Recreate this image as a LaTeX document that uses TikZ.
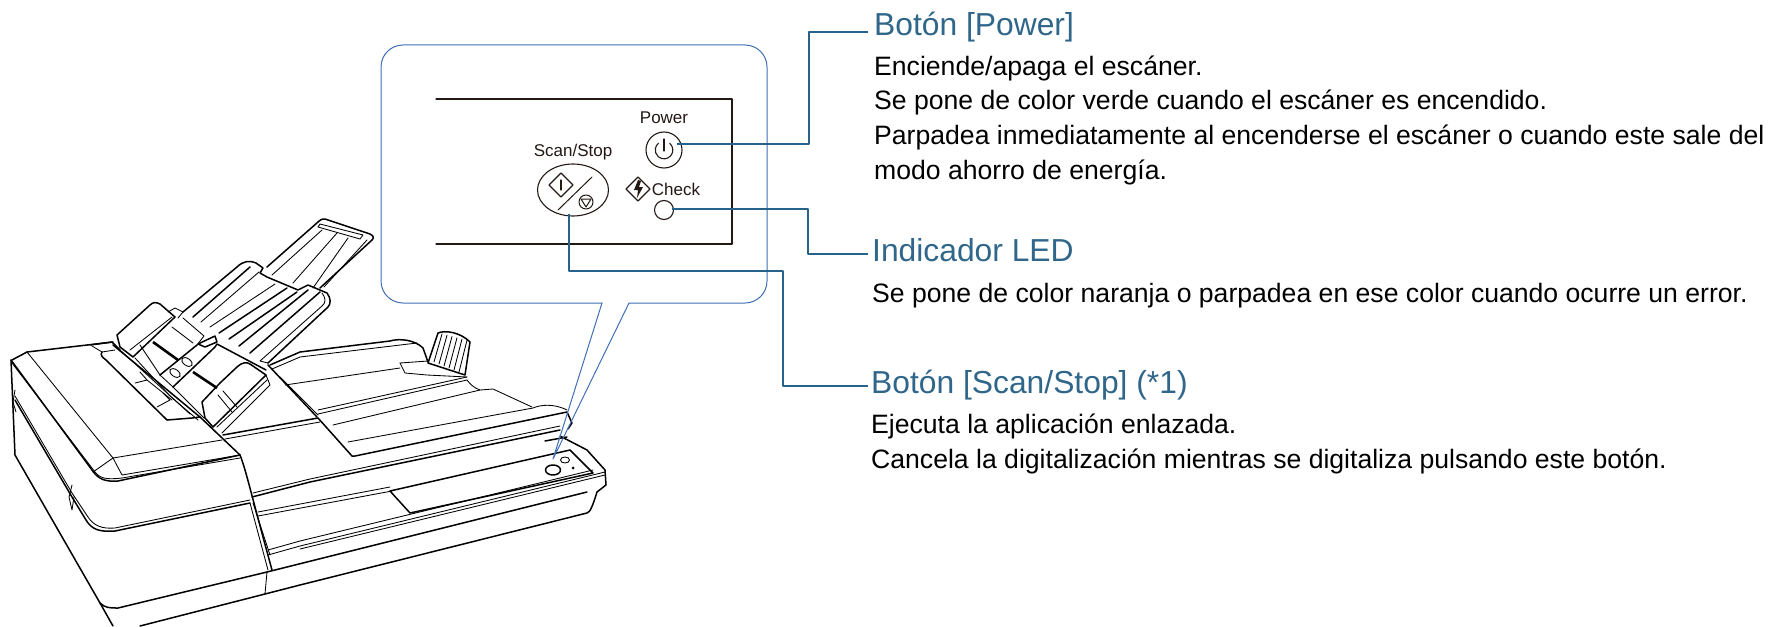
\documentclass[tikz,border=0pt]{standalone}
\usepackage{fontspec}
\setmainfont{Liberation Sans}
\usetikzlibrary{shapes.geometric}
\definecolor{leadblue}{HTML}{27628A}
\definecolor{headblue}{HTML}{2F6689}
\definecolor{callblue}{HTML}{3F6FB5}
\definecolor{panelink}{HTML}{231815}
\tikzset{
  leader/.style={draw=leadblue,line width=2.8pt,line cap=butt},
  headtext/.style={anchor=base west,inner sep=0pt,text=headblue,font=\fontsize{31.8}{36}\selectfont},
  bodytext/.style={anchor=base west,inner sep=0pt,align=left,font=\fontsize{26.6}{34.8}\selectfont},
  paneltext/.style={inner sep=0pt,text=panelink,font=\fontsize{17}{20}\selectfont},
  panelicon/.style={draw=panelink,line width=1.1pt,inner sep=0pt},
  thin line/.style={line width=.85pt},
  thick line/.style={line width=1.5pt}
}
\begin{document}
\begin{tikzpicture}[x=1pt,y=-1pt,line join=round,line cap=round]
  \useasboundingbox (0,0) rectangle (1768,626);
  % scanner, lid and base
  \draw[thick line] (12,360) -- (27,352) -- (113,342);
  \draw[thick line] (11,360) -- (15,455) -- (100,603) .. controls (105,608) and (110,608) .. (118,608) -- (267,572) -- (587,492);
  \draw[thick line] (100,603) -- (113,626);
  \draw[thick line] (140,626) -- (265,594) -- (300,585) -- (587,513) .. controls (590,512) and (592,508) .. (597,492);
  \draw[thin line] (267,572) -- (265,594);
  \draw[thin line] (27,352) -- (113,458) -- (222,440);
  \draw[thin line] (113,458) -- (93,472);
  \draw[thin line] (113,458) -- (122,475) -- (240,455);
  \draw[thin line] (12,363) -- (95,472) .. controls (100,478) and (105,480) .. (122,478) -- (240,458);
  \draw[thick line] (11,360) -- (92,470) .. controls (98,479) and (105,482) .. (118,481) -- (240,455);
  \draw[thick line] (15,400) -- (72,497) -- (86,520) .. controls (92,530) and (100,532) .. (115,531) -- (250,503);
  \draw[thin line] (15,396) -- (72,493) -- (88,517) .. controls (94,526) and (102,529) .. (115,528) -- (250,500);
  \draw[thin line] (15,390) -- (13,402) -- (16,412);
  \draw[thin line] (72,485) -- (69,497) -- (72,510) -- (74,497);
  % edge between lid and centre
  \draw[thick line] (200,417) -- (240,455) .. controls (246,470) and (250,490) .. (272,570);
  \draw[thin line] (250,503) -- (268,570);
  \draw[thin line] (253,503) -- (270,555);
  % long front lines
  \draw[thick line] (252,497) -- (310,482) -- (560,430);
  \draw[thin line] (253,493) -- (310,479) -- (560,426);
  \draw[thin line] (258,512) -- (390,487);
  \draw[thin line] (258,516) -- (392,491);
  \draw[thin line] (268,550) -- (300,541) -- (593,470);
  \draw[thin line] (268,555) -- (300,546) -- (605,472);
  \draw[thin line] (300,549) -- (605,475);
  \draw[thick line] (390,491) -- (410,513) -- (593,473) -- (570,450) -- (390,491);
  \draw[thick line] (560,436) -- (587,450) -- (605,470) -- (606,485) -- (597,492);
  \draw[thick line] (545,441) -- (567,437);
  \draw[thick line] (553,470) ellipse (7.5 and 5);
  \draw[thin line] (565,460) ellipse (4.5 and 3);
  \fill (573,468) circle (1.5);
  % input cover
  \draw[thick line] (268,365) -- (317,417);
  \draw[thin line] (280,377) -- (318,415);
  \draw[thick line] (223,435) -- (318,418) -- (352,456) -- (355,456) -- (567,412) -- (572,423) -- (568,429);
  \draw[thin line] (225,439) -- (320,422);
  \draw[thin line] (348,442) -- (533,408) .. controls (540,405) and (553,403) .. (567,410);
  \draw[thin line] (333,425) -- (480,390) -- (493,389) -- (532,407);
  \draw[thin line] (318,410) -- (467,377);
  \draw[thin line] (318,414) -- (467,380) .. controls (470,384) and (474,388) .. (480,390);
  \draw[thick line] (270,365) -- (300,352) -- (390,341) .. controls (400,338) and (415,340) .. (423,348) -- (428,362);
  \draw[thin line] (272,369) -- (300,357) -- (417,343);
  \draw[thin line] (285,385) -- (400,368);
  \draw[thin line] (400,363) -- (405,373) -- (427,375) -- (467,377);
  \draw[thin line] (400,363) -- (428,361);
  % hopper stop
  \draw[thick line] (428,363) -- (438,333) .. controls (445,330) and (460,332) .. (470,342) -- (465,375) -- cycle;
  \foreach \hx in {0,5,...,25} \draw[thin line] (442+\hx,334+\hx*.25) -- (434+\hx,362+\hx*.4);
  % feed tray extension
  \draw[thick line] (267,267) -- (318,222) .. controls (321,219) and (324,218) .. (328,220) -- (370,234) .. controls (374,236) and (374,238) .. (372,240) -- (320,288);
  \draw[thin line] (320,224) -- (363,235) -- (360,239) -- (318,227) -- cycle;
  \draw[thin line] (272,275) -- (322,230);
  \draw[thin line] (293,283) -- (337,233);
  \draw[thin line] (313,288) -- (348,238);
  \draw[thin line] (367,240) -- (324,287);
  % feed tray
  \draw[thick line] (183,312) -- (237,267) .. controls (243,261) and (250,260) .. (256,263) -- (263,268) -- (260,273) -- (267,277) -- (298,290) -- (308,285) -- (327,293) .. controls (331,298) and (331,304) .. (328,307) -- (268,363);
  \draw[thin line] (322,293) .. controls (326,298) and (326,303) .. (322,306) -- (260,361) -- (268,363);
  \draw[thick line] (193,317) -- (250,267);
  \draw[thin line] (201,322) -- (259,272);
  \draw[thin line] (210,327) -- (275,284);
  \draw[thick line] (219,333) -- (287,288);
  \draw[thick line] (229,339) -- (297,292);
  \draw[thick line] (239,346) -- (308,290);
  \draw[thick line] (250,353) -- (320,292);
  % side guides
  \draw[thick line] (117,335) -- (150,305) .. controls (153,302) and (156,302) .. (160,304) -- (175,317) -- (133,357) -- (120,347) -- cycle;
  \draw[thin line] (130,350) -- (172,317);
  \draw[thin line] (168,312) -- (175,308) -- (183,312) -- (178,318);
  \draw[thick line] (202,402) -- (220,383) -- (237,367) .. controls (242,362) and (247,362) .. (250,364) -- (266,375) -- (213,427) -- (205,418) -- cycle;
  \draw[thin line] (217,427) -- (267,380);
  \draw[thin line] (222,433) -- (270,385) -- (266,375);
  \draw[thin line] (218,395) -- (232,412);
  \draw[thin line] (223,391) -- (237,407);
  % centre strip
  \draw[thin line] (183,318) -- (204,336) -- (197,345);
  \draw[thick line] (160,375) -- (197,345);
  \draw[thick line] (173,387) -- (215,347) -- (217,344) -- (266,370);
  \draw[thin line] (160,375) -- (173,387);
  \draw[thick line] (198,344) -- (215,336) -- (217,342) -- (205,347) -- cycle;
  \draw[thin line,rotate around={-35:(175,373)}] (175,373) ellipse (6 and 3.5);
  \draw[thin line,rotate around={-35:(187,362)}] (187,362) ellipse (6 and 3.5);
  \draw[line width=2.6pt,line cap=butt] (153,342) -- (178,360);
  \draw[line width=2.6pt,line cap=butt] (193,372) -- (217,388);
  \draw[thin line] (172,327) -- (193,343);
  \draw[thin line] (135,358) -- (170,396) -- (198,420);
  \draw[thin line] (173,387) -- (204,418);
  \draw[thin line] (140,345) -- (160,375);
  % ADF chute, left part
  \draw[thick line] (90,345) -- (112,342) -- (120,350);
  \draw[thick line] (102,352) .. controls (100,355) and (102,357) .. (106,360) -- (167,420) -- (192,418) -- (200,417) -- (113,345);
  \draw[thin line] (92,346) -- (102,352) -- (115,350);
  \draw[thin line] (120,350) -- (190,414);
  \draw[thin line] (135,383) -- (147,380) -- (140,372);
  \draw[thin line] (157,407) -- (170,400) -- (163,393);
  \draw[thin line] (147,380) -- (172,400);
  % speech balloon
  \draw[draw=callblue,line width=1pt,rounded corners=22pt] (602,303) -- (381,303) -- (381,45) -- (767,45) -- (767,303) -- (629,303);
  \draw[draw=callblue,line width=1pt] (602,303) -- (553,459) -- (629,303);
  % panel
  \draw[draw=panelink,line width=1.3pt] (436,99) -- (732,99) -- (732,244) -- (436,244);
  \node[paneltext] (powerlabel) at (664,118) {Power};
  \node[paneltext] (scanlabel) at (573,152) {Scan/Stop};
  \node[paneltext] (checklabel) at (676,189) {Check};
  \node[panelicon,circle,minimum size=36pt] (powerbtn) at (664,150) {};
  \node[panelicon,ellipse,minimum width=71pt,minimum height=52pt] (scanbtn) at (573,190) {};
  \node[panelicon,circle,minimum size=19pt] (ledlamp) at (664,210) {};
  \draw[draw=panelink,line width=1.1pt] (669.7,143.3) arc[start angle=310,end angle=590,radius=8.8];
  \draw[draw=panelink,line width=1.1pt] (664,139) -- (664,151);
  \draw[draw=panelink,line width=1.1pt] (561,173) -- (573,185) -- (561,197) -- (549,185) -- cycle;
  \draw[draw=panelink,line width=1.1pt] (561,180) -- (561,190);
  \draw[draw=panelink,line width=1pt] (558,210) -- (592,177);
  \draw[draw=panelink,line width=1pt] (586,202) circle (7);
  \draw[draw=panelink,line width=1pt] (581,199) -- (591,199) -- (586,207) -- cycle;
  \draw[draw=panelink,line width=1.1pt] (638,177) -- (650,189) -- (638,201) -- (626,189) -- cycle;
  \fill[panelink] (638,180) -- (634,190) -- (638,190) -- (637,198) -- (643,187) -- (639,187) -- (641,181) -- cycle;
  % headings and their texts
  \node[headtext] (powerhead) at (874,35.5) {Botón [Power]};
  \node[bodytext] (powerbody) at (874,179.5) {Enciende/apaga el escáner.\\Se pone de color verde cuando el escáner es encendido.\\Parpadea inmediatamente al encenderse el escáner o cuando este sale del\\modo ahorro de energía.};
  \node[headtext] (ledhead) at (872,261) {Indicador LED};
  \node[bodytext] (ledbody) at (872,302) {Se pone de color naranja o parpadea en ese color cuando ocurre un error.};
  \node[headtext] (scanhead) at (871,393) {Botón [Scan/Stop] (*1)};
  \node[bodytext] (scanbody) at (871,468) {Ejecuta la aplicación enlazada.\\Cancela la digitalización mientras se digitaliza pulsando este botón.};
  % leaders
  \coordinate (powerend) at (677,144);
  \coordinate (ledend) at (672,209);
  \coordinate (scanend) at (569,214);
  \draw[leader] (powerend) -- (809,144) -- (809,32) -- ([xshift=-6pt,yshift=3.5pt]powerhead.base west);
  \draw[leader] (ledend) -- (808,209) -- (808,254) -- ([xshift=-4pt,yshift=7pt]ledhead.base west);
  \draw[leader] (scanend) -- (569,271) -- (783,271) -- (783,386) -- ([xshift=-3pt,yshift=7pt]scanhead.base west);
\end{tikzpicture}
\end{document}
